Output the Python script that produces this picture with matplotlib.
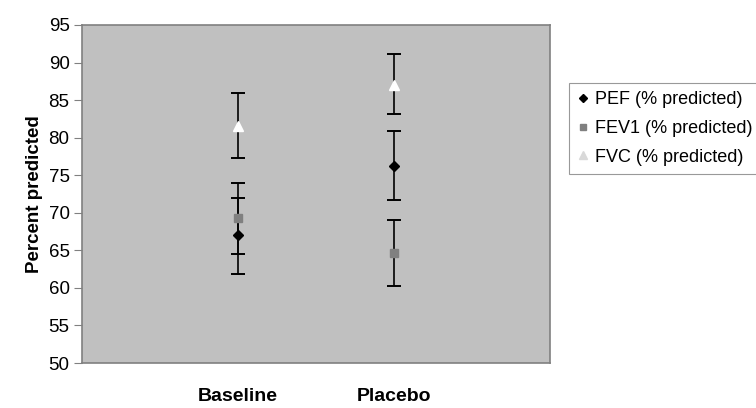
import matplotlib.pyplot as plt
import numpy as np

plt.rcParams['font.family'] = ['Liberation Sans', 'DejaVu Sans']

groups = ["Baseline", "Placebo"]
series = ["PEF (% predicted)", "FEV1 (% predicted)", "FVC (% predicted)"]

# mean, upper and lower end of the error bar
pef_mean = [67.0, 76.2]
pef_hi = [72.0, 80.9]
pef_lo = [64.5, 71.7]

fev1_mean = [69.3, 64.6]
fev1_hi = [73.9, 69.0]
fev1_lo = [61.9, 60.2]

fvc_mean = [81.6, 87.0]
fvc_hi = [86.0, 91.2]
fvc_lo = [77.3, 83.2]

fig = plt.figure(figsize=(7.56, 4.08), dpi=100)
ax = fig.add_axes([82 / 756, 1 - 363 / 408, 468 / 756, 338 / 408])
ax.set_facecolor('#c0c0c0')

x = np.arange(1, len(groups) + 1)

# marker, colour on plot, colour in legend, size
styles = [
    (pef_mean, pef_hi, pef_lo, 'D', 'black', 'black', 5.5),
    (fev1_mean, fev1_hi, fev1_lo, 's', '#808080', '#808080', 6),
    (fvc_mean, fvc_hi, fvc_lo, '^', 'white', '#d9d9d9', 7.5),
]

handles = []
for (mean, hi, lo, mk, col, legcol, ms), name in zip(styles, series):
    mean = np.array(mean)
    yerr = [mean - np.array(lo), np.array(hi) - mean]
    ax.errorbar(x, mean, yerr=yerr, fmt='none', ecolor='black', elinewidth=1.2,
                capsize=5, capthick=1.4, zorder=2)
    ax.plot(x, mean, linestyle='none', marker=mk, markersize=ms,
            markerfacecolor=col, markeredgecolor=col, zorder=3)
    h, = ax.plot([], [], linestyle='none', marker=mk, markersize=ms * 0.8,
                 markerfacecolor=legcol, markeredgecolor=legcol, label=name)
    handles.append(h)

ax.set_xlim(0, 3)
ax.set_ylim(50, 95)
ax.set_yticks(np.arange(50, 96, 5))
ax.set_xticks(x)
ax.set_xticklabels(groups, fontsize=14, fontweight='bold')
ax.tick_params(axis='x', length=0, pad=18)
ax.tick_params(axis='y', length=6, color='#808080', labelsize=13.5, pad=3)
ax.set_ylabel('Percent predicted', fontsize=13.5, fontweight='bold', labelpad=4)

for sp in ax.spines.values():
    sp.set_color('#808080')
    sp.set_linewidth(1.2)

leg = fig.legend(handles=handles, loc='upper left', bbox_to_anchor=(569 / 756, 1 - 83 / 408),
                 bbox_transform=fig.transFigure, borderaxespad=0, frameon=True, fancybox=False,
                 fontsize=13, handlelength=0.6, handletextpad=0.4, labelspacing=0.65,
                 borderpad=0.45)
leg.get_frame().set_edgecolor('#808080')
leg.get_frame().set_linewidth(0.8)

fig.savefig('out.png', dpi=100)
